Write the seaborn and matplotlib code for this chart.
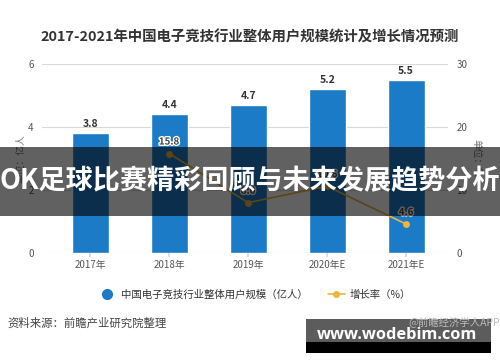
import matplotlib
matplotlib.use("Agg")
import matplotlib.pyplot as plt
import matplotlib.patheffects as pe
from matplotlib.lines import Line2D
from matplotlib.patches import Rectangle
import seaborn as sns

# Data
years = ["2017年", "2018年", "2019年", "2020年E", "2021年E"]
users = [3.8, 4.4, 4.7, 5.2, 5.5]          # 亿人
growth_years = ["2018年", "2019年", "2020年E", "2021年E"]
growth = [15.8, 8.0, 10.6, 4.6]            # %
left_ticks = [0, 2, 4, 6]
right_ticks = [0, 10, 20, 30]

sns.set_theme(style="white")
plt.rcParams["font.family"] = ["Noto Sans CJK SC", "DejaVu Sans"]

BLUE = "#1b7bc6"
GOLD = "#f0b43a"
GRID = "#d9d9d9"

fig = plt.figure(figsize=(5, 3.62), dpi=100)
ax = fig.add_axes([0.084, 0.301, 0.812, 0.522])

sns.barplot(x=years, y=users, color=BLUE, width=0.47, saturation=1, ax=ax)
ax.bar_label(ax.containers[0], fmt="%.1f", padding=3, fontsize=7.5,
             fontweight="bold", color="#333333")
ax.set_ylim(0, 6)
ax.set_yticks(left_ticks)
ax.set_xlim(-0.61, 4.53)
ax.yaxis.grid(True, color=GRID, linewidth=0.8)
ax.set_axisbelow(True)
for s in ax.spines.values():
    s.set_visible(False)
ax.tick_params(axis="y", length=0, labelsize=7, labelcolor="#555555", pad=6)
ax.tick_params(axis="x", length=3, color=GRID, labelsize=7, labelcolor="#555555",
               pad=2, bottom=True)
ax.set_ylabel("单位：亿人", fontsize=7, color="#777777", labelpad=2)

# growth rate on the right axis
ax2 = ax.twinx()
pos = [years.index(y) for y in growth_years]
sns.lineplot(x=pos, y=growth, ax=ax2, color=GOLD, linewidth=1.2, marker="o",
             markersize=5, markeredgewidth=0)
for x, v in zip(pos, growth):
    ax2.annotate(f"{v:.1f}", (x, v), xytext=(0, 5), textcoords="offset points",
                 ha="center", va="bottom", fontsize=7, fontweight="bold", color="#444444",
                 path_effects=[pe.withStroke(linewidth=2, foreground="white")])
ax2.set_ylim(0, 30)
ax2.set_yticks(right_ticks)
ax2.set_xlim(-0.61, 4.53)
for s in ax2.spines.values():
    s.set_visible(False)
ax2.tick_params(axis="y", length=0, labelsize=7, labelcolor="#555555", pad=6)
ax2.set_ylabel("单位：%", fontsize=7, color="#777777", rotation=270, labelpad=10)
ax2.grid(False)

fig.text(0.5, 0.897, "2017-2021年中国电子竞技行业整体用户规模统计及增长情况预测",
         ha="center", va="center", fontsize=10.4, fontweight="bold", color="#333333")

handles = [
    Line2D([], [], marker="o", linestyle="", color=BLUE, markersize=7),
    Line2D([], [], marker="o", linestyle="-", color=GOLD, markersize=4, linewidth=1.2),
]
fig.legend(handles, ["中国电子竞技行业整体用户规模（亿人）", "增长率（%）"],
           loc="center", bbox_to_anchor=(0.51, 0.185), ncol=2, frameon=False,
           fontsize=7.5, handlelength=1.6, columnspacing=2, handletextpad=0.5,
           labelcolor="#333333")

fig.text(0.014, 0.108, "资料来源：前瞻产业研究院整理", ha="left", va="center",
         fontsize=8.2, color="#444444")

# watermark box at bottom right
fig.patches.append(Rectangle((0.612, 0.052), 0.37, 0.066, transform=fig.transFigure,
                             facecolor="#5c5c5c", edgecolor="none"))
fig.patches.append(Rectangle((0.612, 0.025), 0.37, 0.03, transform=fig.transFigure,
                             facecolor="black", edgecolor="none"))
fig.text(0.999, 0.112, "@前瞻经济学人APP", ha="right", va="center", fontsize=7.5,
         color="#bbbbbb")
fig.text(0.794, 0.075, "www.wodebim.com", ha="center", va="center", fontsize=11.8,
         fontweight="bold", color="white", family=["Open Sans", "DejaVu Sans"])

# overlay banner
fig.patches.append(Rectangle((0, 0.403), 1, 0.191, transform=fig.transFigure,
                             facecolor="black", alpha=0.62, edgecolor="none", zorder=10))
fig.text(0.5, 0.5, "OK足球比赛精彩回顾与未来发展趋势分析", ha="center", va="center",
         fontsize=19.5, fontweight="bold", color="white", zorder=11)

fig.savefig("out.png", dpi=100, facecolor="white")
